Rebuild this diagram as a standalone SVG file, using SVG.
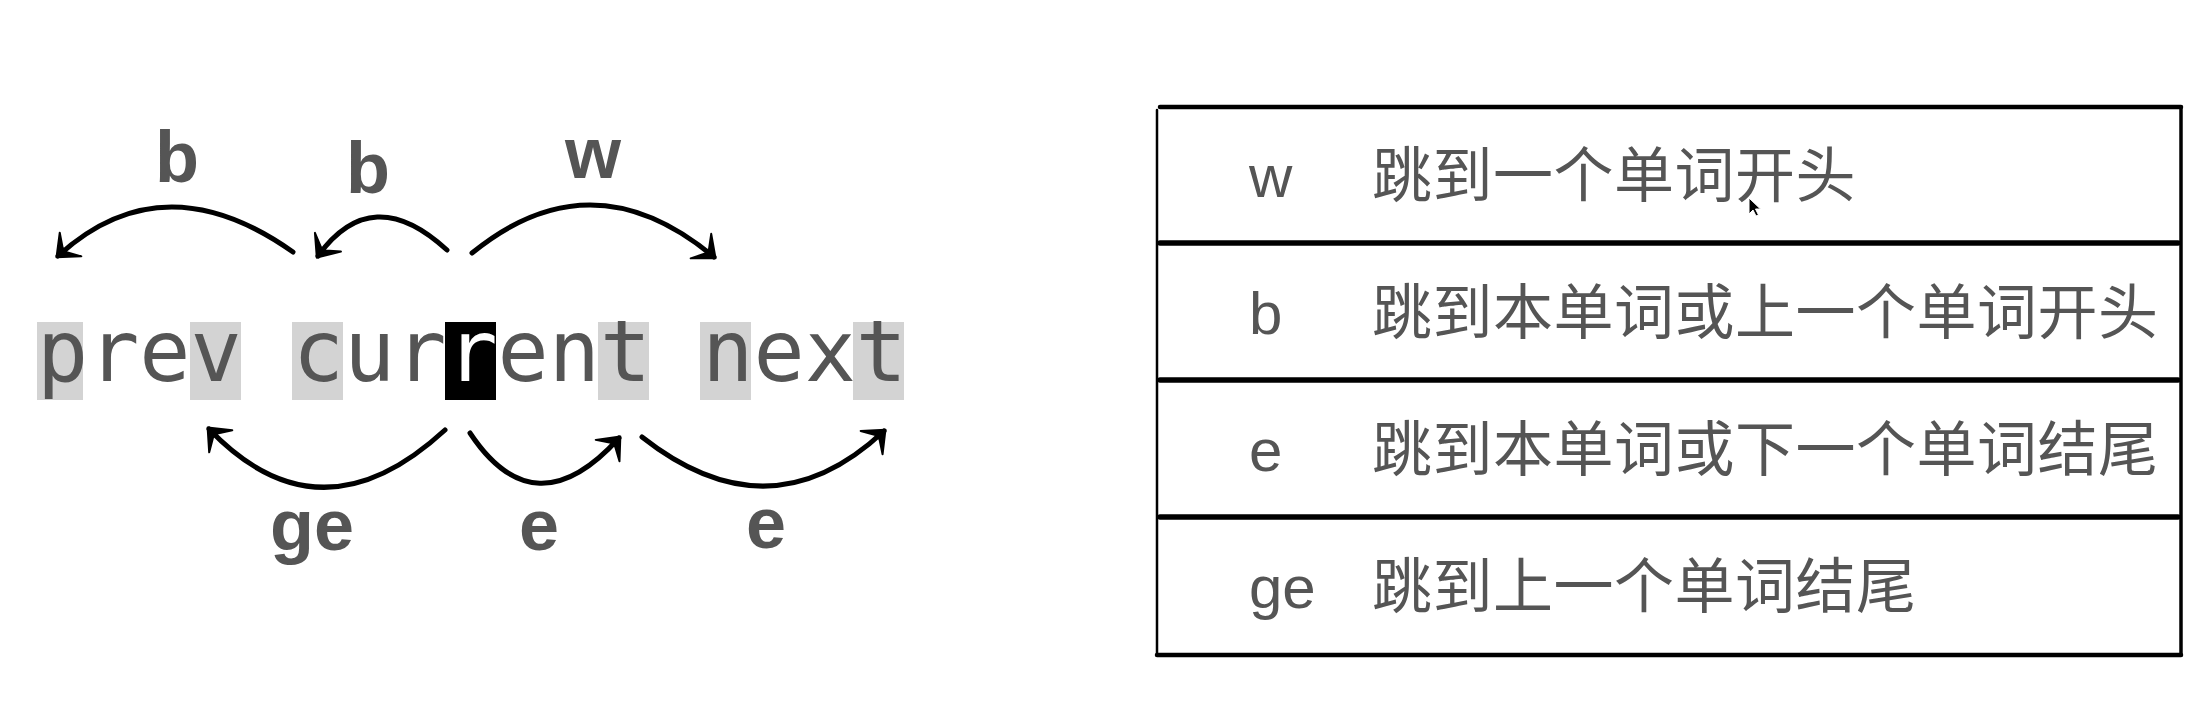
<svg xmlns="http://www.w3.org/2000/svg" width="2211" height="703" viewBox="0 0 2211 703">
  <style>
    .mono { font-family: "DejaVu Sans Mono", "Liberation Mono", monospace; font-size: 85px; fill: #555; }
    .lbl { font-family: "Liberation Sans", Arial, sans-serif; font-weight: bold; font-size: 72px; fill: #555; text-anchor: middle; }
    .key { font-family: "Liberation Sans", Arial, sans-serif; font-size: 60px; fill: #555; }
    .desc { font-family: "Noto Sans CJK SC", "Liberation Sans", sans-serif; font-size: 60px; letter-spacing: 0.5px; fill: #555; }
    .hl { fill: #d3d3d3; }
    .arc { fill: none; stroke: #000; stroke-width: 5; stroke-linecap: round; marker-end: url(#ah); }
    .rule { stroke: #000; stroke-linecap: round; }
  </style>
  <defs>
    <marker id="ah" markerUnits="userSpaceOnUse" markerWidth="40" markerHeight="40" refX="0" refY="0" viewBox="-25 -20 30 40" orient="auto">
      <path d="M2,0 L-17,-16 L-9,-3 L-9,3 L-17,16 Z" fill="#000" stroke="#000" stroke-width="2" stroke-linejoin="round"/>
    </marker>
  </defs>
  <rect width="2211" height="703" fill="#fff"/>

  <g id="word-line">
    <rect class="hl" x="37" y="322" width="46" height="78"/>
    <rect class="hl" x="190" y="322" width="51" height="78"/>
    <rect class="hl" x="292" y="322" width="51" height="78"/>
    <rect x="445" y="322" width="51" height="78" fill="#000"/>
    <rect class="hl" x="598" y="322" width="51" height="78"/>
    <rect class="hl" x="700" y="322" width="51" height="78"/>
    <rect class="hl" x="853" y="322" width="51" height="78"/>
    <text class="mono" x="37" y="381" xml:space="preserve">prev cur<tspan fill="#fff">r</tspan>ent next</text>
  </g>

  <g id="connectors">
    <path class="arc" d="M293,252 Q163,160 58,256"/>
    <path class="arc" d="M447,250 Q372,181 318,256"/>
    <path class="arc" d="M472,253 Q592,155 714,257"/>
    <path class="arc" d="M445,430 Q320,545 209,429"/>
    <path class="arc" d="M470,433 Q535,531 619,438"/>
    <path class="arc" d="M642,437 Q770,538 884,431"/>
  </g>

  <g id="labels">
    <text class="lbl" x="177" y="182">b</text>
    <text class="lbl" x="368" y="193">b</text>
    <text class="lbl" x="593" y="178">w</text>
    <text class="lbl" x="312" y="550">ge</text>
    <text class="lbl" x="539" y="550">e</text>
    <text class="lbl" x="766" y="548">e</text>
  </g>

  <g id="table">
    <line class="rule" x1="1157" y1="110" x2="1157" y2="655" stroke-width="2.5"/>
    <line class="rule" x1="2181" y1="107" x2="2181" y2="655" stroke-width="3.5"/>
    <line class="rule" x1="1160" y1="107" x2="2181" y2="107" stroke-width="4.5"/>
    <line class="rule" x1="1160" y1="243" x2="2178" y2="243" stroke-width="5.5"/>
    <line class="rule" x1="1160" y1="380" x2="2178" y2="380" stroke-width="5.5"/>
    <line class="rule" x1="1160" y1="517" x2="2178" y2="517" stroke-width="5.5"/>
    <line class="rule" x1="1157" y1="655" x2="2181" y2="655" stroke-width="4.5"/>
  </g>

  <g id="row-w">
    <text class="key" x="1249" y="197">w</text>
    <text class="desc" x="1372" y="197">跳到一个单词开头</text>
  </g>
  <g id="row-b">
    <text class="key" x="1249" y="334">b</text>
    <text class="desc" x="1372" y="334">跳到本单词或上一个单词开头</text>
  </g>
  <g id="row-e">
    <text class="key" x="1249" y="471">e</text>
    <text class="desc" x="1372" y="471">跳到本单词或下一个单词结尾</text>
  </g>
  <g id="row-ge">
    <text class="key" x="1249" y="608">ge</text>
    <text class="desc" x="1372" y="608">跳到上一个单词结尾</text>
  </g>

  <g id="cursor">
    <path d="M1749,198 L1749,214 L1753,210 L1756,216 L1758.5,215 L1755.5,209 L1760.5,209 Z" fill="#000" stroke="#fff" stroke-width="1"/>
  </g>
</svg>
